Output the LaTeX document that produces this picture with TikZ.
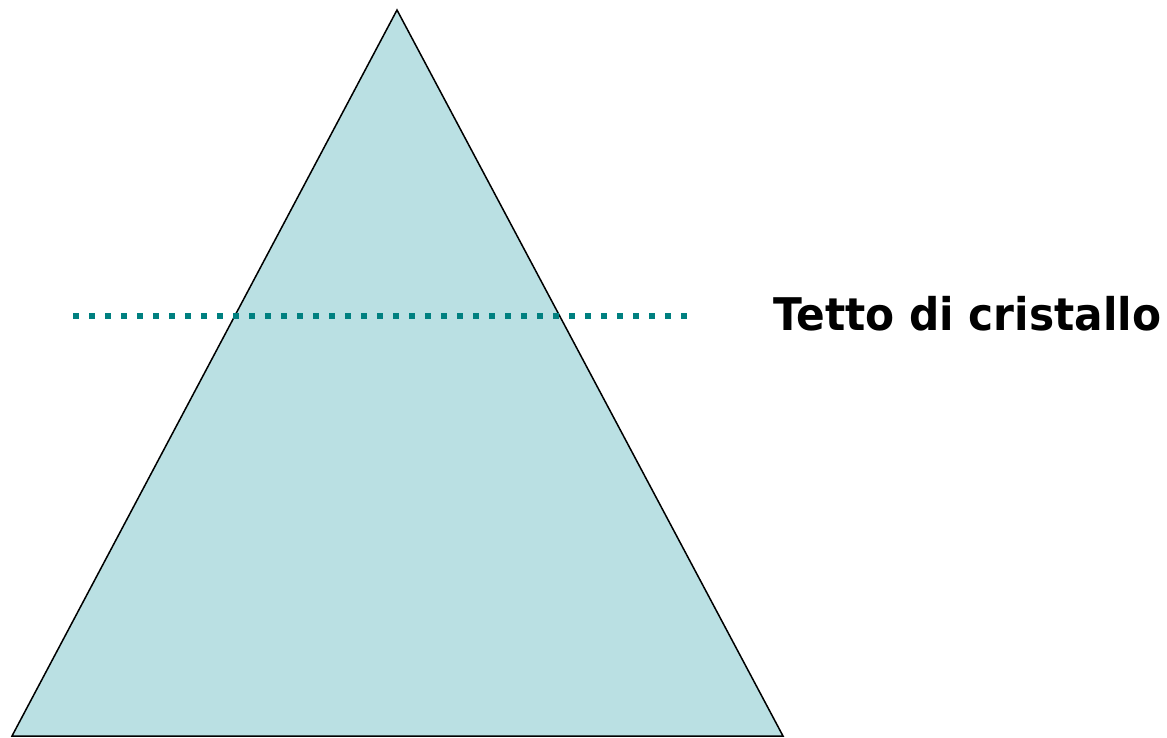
\documentclass[tikz,border=0pt]{standalone}
\usepackage{fontspec}
\setmainfont{DejaVu Sans}
\newfontfamily\labelfont[FakeStretch=0.94]{DejaVu Sans}
\usepackage{tikz}
\usetikzlibrary{calc}
\definecolor{iceblue}{RGB}{186,224,227}
\definecolor{glassteal}{RGB}{0,128,128}
\tikzstyle{pyramid} = [draw=black, fill=iceblue, line width=1.5pt, line join=miter]
\tikzstyle{ceiling} = [draw=glassteal, line width=6pt, line cap=butt, dash pattern=on 6pt off 10pt]
\tikzstyle{label} = [font=\labelfont\bfseries\fontsize{45}{54}\selectfont, anchor=west, inner sep=0pt]

\begin{document}
\begin{tikzpicture}[x=1pt, y=-1pt]
        \useasboundingbox (0,0) rectangle (1167,737);
        \coordinate (apex) at (397,10);
        \coordinate (left) at (12,736);
        \coordinate (right) at (783,736);
        \coordinate (roofstart) at (73,316);
        \coordinate (roofend) at (690,316);
        \path[pyramid] (left) -- (apex) -- (right) -- cycle;
        \path[ceiling] (roofstart) -- (roofend);
        \node[label] (roof) at (773,314) {Tetto di cristallo};
    \end{tikzpicture}
\end{document}
